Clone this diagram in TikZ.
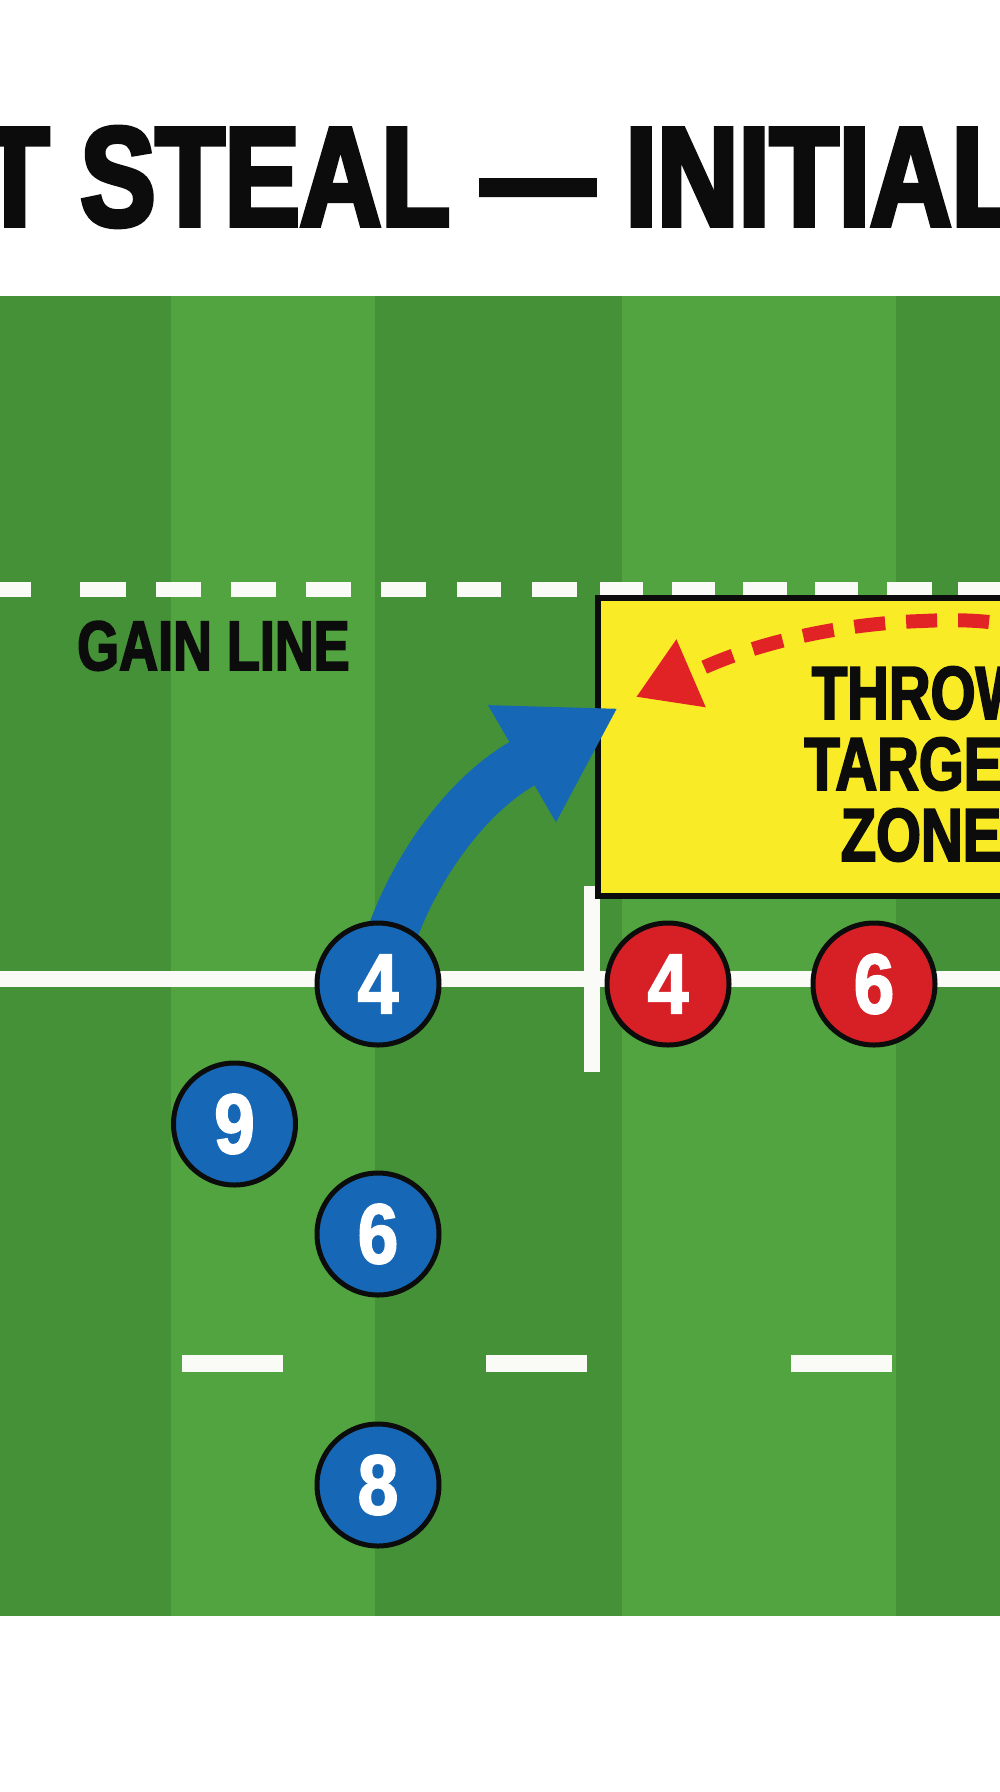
\documentclass[tikz,border=0pt]{standalone}
\usepackage{fontspec}
\usetikzlibrary{arrows.meta}
\newfontfamily\titlefont{Liberation Sans}[UprightFont={* Bold},FakeStretch=0.80,FakeBold=3.5]
\newfontfamily\heavyfont{Liberation Sans}[UprightFont={* Bold},FakeStretch=0.77,FakeBold=2.5]
\newfontfamily\numfont{Liberation Sans}[UprightFont={* Bold},FakeStretch=0.86,FakeBold=2]
\definecolor{fieldD}{RGB}{68,145,55}
\definecolor{fieldL}{RGB}{82,164,64}
\definecolor{markW}{RGB}{250,250,246}
\definecolor{pblue}{RGB}{22,104,182}
\definecolor{pred}{RGB}{214,32,38}
\definecolor{arred}{RGB}{226,35,38}
\definecolor{zoneY}{RGB}{249,236,38}
\definecolor{inkK}{RGB}{12,12,12}
\pgfdeclarelayer{front}
\pgfsetlayers{main,front}
\tikzset{
  player/.style={circle, draw=inkK, line width=5pt, minimum size=122pt, inner sep=0pt,
    font={\numfont\fontsize{85}{85}\selectfont}, text=white},
  bluep/.style={player, fill=pblue},
  redp/.style={player, fill=pred},
  heavy/.style={inner sep=0pt, text=inkK},
  fieldmark/.style={fill=markW},
  zonebox/.style={rectangle, draw=inkK, line width=6pt, fill=zoneY, minimum width=644pt, minimum height=298pt, inner sep=0pt},
  runarrow/.style={draw=pblue, line width=50pt, -{Triangle[length=111pt,width=127pt]}},
  throwarrow/.style={draw=arred, line width=14pt, dash pattern=on 31pt off 21pt, -{Triangle[length=60pt,width=70pt]}}
}
\begin{document}
\begin{tikzpicture}[x=1pt,y=-1pt]
\useasboundingbox (0,0) rectangle (1000,1792);
\clip (0,0) rectangle (1000,1792);
\fill[white] (0,0) rectangle (1000,1792);
% field stripes
\fill[fieldD] (0,296) rectangle (171,1616);
\fill[fieldL] (171,296) rectangle (375,1616);
\fill[fieldD] (375,296) rectangle (622,1616);
\fill[fieldL] (622,296) rectangle (896,1616);
\fill[fieldD] (896,296) rectangle (1000,1616);
% title (cut at both edges, as in the reference)
\node[heavy, anchor=base west, font={\titlefont\fontsize{141}{141}\selectfont}] (title) at (-20,225.5) {T STEAL — INITIAL};
% gain line (dashed)
\foreach \a/\b in {-14/31, 80/126, 156/201, 231/276, 306/351, 381/426, 457/501, 532/577, 600/643, 672/715, 743/787, 815/858, 887/932, 958/1003}
  \fill[fieldmark] (\a,582) rectangle (\b,597);
% lineout line and markings
\fill[fieldmark] (0,971) rectangle (1000,987);
\fill[fieldmark] (584,886) rectangle (600,1072);
\foreach \a in {182,486,791}
  \fill[fieldmark] (\a,1355) rectangle (\a+101,1372);
% gain line label
\node[heavy, anchor=base west, font={\heavyfont\fontsize{70}{70}\selectfont}] (gain) at (77,670) {GAIN LINE};
% throw target zone
\node[zonebox] (zone) at (920,747) {};
\node[heavy, align=center, font={\heavyfont\fontsize{75}{71}\selectfont}] (zonelbl) at (921,764) {THROW\\TARGET\\ZONE};
% players
\begin{pgfonlayer}{front}
\node[bluep] (b4) at (378,984) {4};
\node[bluep] (b9) at (234.5,1124) {9};
\node[bluep] (b6) at (378,1234) {6};
\node[bluep] (b8) at (378,1485) {8};
\node[redp] (r4) at (668,984) {4};
\node[redp] (r6) at (874,984) {6};
\end{pgfonlayer}
% arrows
\coordinate (btip) at (618,708);
\draw[runarrow] (b4.center) .. controls (394,900) and (452,806) .. (519.4,765.2) -- (btip);
\coordinate (rstart) at (1040,632);
\coordinate (rtip) at (636,697);
\draw[throwarrow] (rstart) .. controls (1000,620) and (960,619) .. (923,621) .. controls (850,623) and (760,640) .. (694,672) -- (rtip);
\end{tikzpicture}
\end{document}
